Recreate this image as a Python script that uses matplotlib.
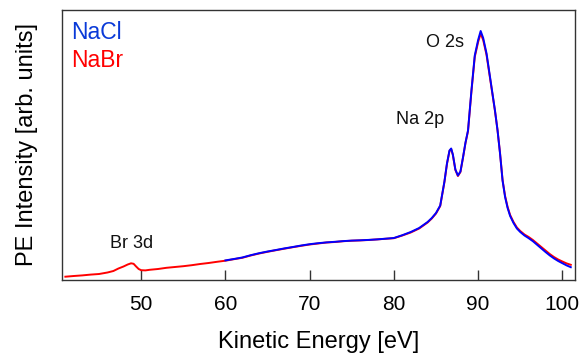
import matplotlib
matplotlib.use("Agg")
import matplotlib.pyplot as plt

# ---- data ----
nabr_energy = [41.0, 42.0, 43.0, 44.0, 45.0, 46.0, 46.7, 47.3, 47.9, 48.4, 48.8, 49.1, 49.4, 49.7,
               50.0, 50.5, 51.0, 52.0, 53.0, 54.0, 55.0, 56.0, 57.0, 58.0, 59.0, 60.0, 61.0, 62.0,
               63.0, 64.0, 65.0, 66.0, 67.0, 68.0, 69.0, 70.0, 71.0, 72.0, 73.0, 74.0, 75.0, 76.0,
               77.0, 78.0, 79.0, 80.0, 81.0, 82.0, 83.0, 84.0, 84.5, 85.0, 85.5, 86.0, 86.3, 86.6,
               86.8, 87.0, 87.3, 87.6, 87.9, 88.2, 88.5, 88.8, 89.2, 89.6, 90.0, 90.3, 90.6, 91.0,
               91.5, 92.0, 92.3, 92.6, 92.9, 93.2, 93.5, 93.8, 94.2, 94.6, 95.0, 95.5, 96.0, 96.5,
               97.0, 97.5, 98.0, 98.5, 99.0, 99.5, 100.0, 100.5, 101.0]
nabr_intensity = [3.3, 4.0, 4.6, 5.4, 6.0, 7.5, 9.0, 11.5, 13.5, 15.5, 16.7, 16.2, 13.5, 11.0,
                  9.8, 9.6, 10.2, 11.0, 12.2, 13.0, 13.8, 14.8, 16.0, 17.0, 18.2, 19.3, 20.8, 22.2,
                  24.5, 26.5, 28.2, 29.8, 31.3, 32.8, 34.2, 35.5, 36.5, 37.5, 38.0, 38.8, 39.3, 39.6,
                  40.0, 40.6, 41.2, 41.8, 44.5, 47.5, 51.5, 57.5, 61.5, 66.5, 74.0, 98.0, 116.0, 129.0,
                  131.0, 125.0, 110.0, 104.0, 108.0, 122.0, 137.0, 149.0, 188.0, 223.0, 238.0, 246.5, 240.0, 225.0,
                  197.0, 169.0, 150.0, 127.0, 100.0, 84.0, 73.0, 65.0, 58.0, 52.5, 49.0, 45.5, 43.0, 40.0,
                  36.5, 33.0, 29.5, 26.0, 23.0, 20.5, 18.5, 16.6, 15.2]

nacl_energy = [60.0, 61.0, 62.0, 63.0, 64.0, 65.0, 66.0, 67.0, 68.0, 69.0, 70.0, 71.0, 72.0, 73.0,
               74.0, 75.0, 76.0, 77.0, 78.0, 79.0, 80.0, 81.0, 82.0, 83.0, 84.0, 84.5, 85.0, 85.5,
               86.0, 86.3, 86.6, 86.8, 87.0, 87.3, 87.6, 87.9, 88.2, 88.5, 88.8, 89.2, 89.6, 90.0,
               90.3, 90.6, 91.0, 91.5, 92.0, 92.3, 92.6, 92.9, 93.2, 93.5, 93.8, 94.2, 94.6, 95.0,
               95.5, 96.0, 96.5, 97.0, 97.5, 98.0, 98.5, 99.0, 99.5, 100.0, 100.5, 101.0]
nacl_intensity = [19.6, 21.0, 22.5, 24.8, 26.8, 28.5, 30.0, 31.6, 33.0, 34.5, 35.8, 36.8, 37.6, 38.2,
                  38.9, 39.4, 39.7, 40.1, 40.6, 41.3, 42.0, 44.8, 48.0, 52.0, 58.0, 62.0, 67.0, 74.5,
                  98.5, 116.5, 129.5, 131.5, 125.5, 110.5, 104.5, 108.5, 122.5, 137.5, 149.5, 189.0, 224.5, 240.0,
                  249.0, 242.0, 226.5, 198.0, 169.5, 150.0, 126.5, 99.5, 83.0, 72.0, 64.0, 57.0, 51.5, 48.0,
                  44.5, 41.8, 38.8, 35.2, 31.6, 28.0, 24.6, 21.6, 19.0, 16.8, 14.6, 12.8]

xticks = [50, 60, 70, 80, 90, 100]
peak_labels = ["Br 3d", "Na 2p", "O 2s"]
peak_label_x = [48.8, 83.1, 86.1]
peak_label_y = [31.7, 156.5, 232.7]

FONT = "Liberation Sans"
plt.rcParams["font.family"] = [FONT, "DejaVu Sans"]

fig = plt.figure(figsize=(5.84, 3.56), dpi=100)
ax = fig.add_axes([62 / 584, 76 / 356, 513 / 584, 270 / 356])

ax.plot(nabr_energy, nabr_intensity, color="#ff0000", lw=1.4, zorder=2)
ax.plot(nacl_energy, nacl_intensity, color="#0000ff", lw=1.4, zorder=3)

ax.set_xlim(40.6, 101.5)
ax.set_ylim(0, 270)
ax.set_xticks(xticks)
ax.set_yticks([])
ax.tick_params(axis="x", direction="in", length=7, width=1.0, color="#333333",
               labelsize=15, pad=11, top=False)
for s in ax.spines.values():
    s.set_color("#333333")
    s.set_linewidth(1.0)

ax.set_xlabel("Kinetic Energy [eV]", fontsize=17, labelpad=12)
ax.set_ylabel("PE Intensity [arb. units]", fontsize=17, labelpad=17)

for lab, xx, yy in zip(peak_labels, peak_label_x, peak_label_y):
    ax.text(xx, yy, lab, fontsize=13, ha="center", va="baseline", color="#111111")

ax.text(0.0175, 0.8915, "NaCl", transform=ax.transAxes, fontsize=16.5, color="#0a3ad8",
        va="baseline", ha="left")
ax.text(0.0175, 0.79, "NaBr", transform=ax.transAxes, fontsize=16.5, color="#ff0000",
        va="baseline", ha="left")

fig.savefig("out.png", dpi=100)
